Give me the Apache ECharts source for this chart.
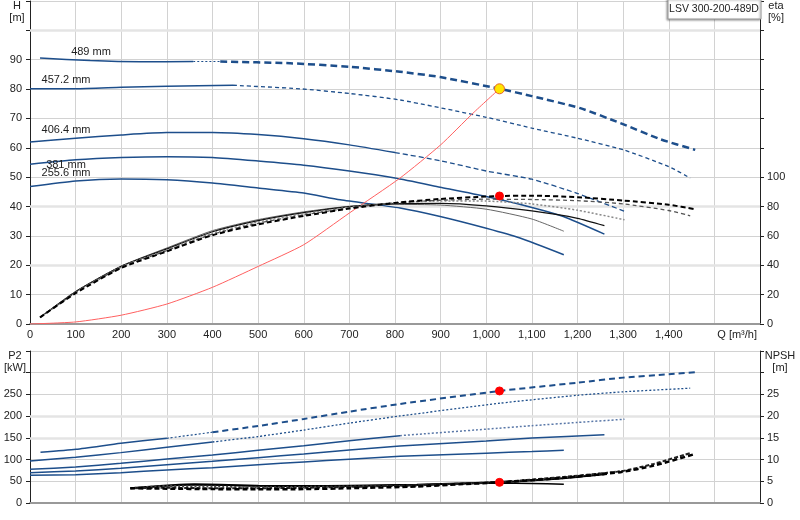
<!DOCTYPE html>
<html><head><meta charset="utf-8">
<script src="https://cdn.jsdelivr.net/npm/echarts@6/dist/echarts.min.js"></script>
<style>html,body{margin:0;padding:0;background:#fff}#c{width:800px;height:520px}</style>
</head><body><div id="c"></div>
<script>
// ---------- data ----------
const pumpName = 'LSV 300-200-489D';
const diamLabels = ['489 mm', '457.2 mm', '406.4 mm', '381 mm', '255.6 mm'];
const qAxisTitle = 'Q [m\u00b3/h]';

// Head curves [Q, H]
const h489 = [[22,90.6],[132,89.7],[241,89.3],[358,89.4],[417,89.4],[570,88.8],[700,87.6],[811,85.9],[899,84.1],[1029,80.1],[1100,77.6],[1206,73.5],[1294,68.4],[1382,62.9],[1458,59.3]];
const h457 = [[0,80.1],[100,80.1],[200,80.6],[300,81.0],[445,81.3],[592,80.1],[700,78.5],[811,76.3],[1000,70.4],[1100,66.7],[1199,63.3],[1301,59.3],[1400,53.6],[1447,49.7]];
const h406 = [[0,62.0],[100,63.3],[200,64.4],[300,65.2],[400,65.2],[500,64.5],[600,63.1],[700,61.0],[800,58.4],[900,55.6],[1000,52.1],[1100,49.3],[1199,44.5],[1303,38.4]];
const h381 = [[0,54.4],[100,55.9],[200,56.7],[300,57.0],[400,56.7],[500,55.5],[600,54.1],[700,52.1],[800,49.7],[899,46.6],[1000,43.4],[1100,39.7],[1169,36.6],[1259,30.6]];
const h255 = [[0,46.8],[100,48.7],[200,49.4],[300,49.1],[400,48.0],[500,46.3],[600,44.6],[680,42.3],[811,39.5],[899,36.6],[1000,32.6],[1074,29.3],[1170,23.6]];
// System curve [Q, H]
const sysCurve = [[0,0],[100,0.7],[200,3.0],[300,6.8],[400,12.5],[500,19.6],[600,27.0],[700,37.8],[811,49.7],[900,61.0],[971,71.8],[1029,80.1]];
// Efficiency curves [Q, eta %]
const e489 = [[22,4.5],[100,21],[200,38.2],[300,49.5],[400,60.5],[500,67.9],[600,73.6],[700,78.6],[800,82.5],[900,85.2],[1000,86.8],[1029,87.2],[1100,87.4],[1200,86.4],[1300,84.1],[1400,81.2],[1458,78.2]];
const e457 = [[22,4.5],[100,21.3],[200,38.6],[300,50],[400,61.2],[500,68.6],[600,74.3],[700,79],[800,82.5],[900,84.3],[1000,85],[1100,84.8],[1200,84],[1300,81.8],[1400,77.3],[1447,73.7]];
const e406 = [[22,4.5],[100,21.6],[200,39],[300,50.5],[400,62],[500,69.5],[600,75],[700,79.5],[800,82.5],[900,83.8],[1000,83.7],[1100,81.8],[1200,77.5],[1303,71]];
const e381 = [[22,4.5],[100,22],[200,39.3],[300,51.2],[400,62.8],[500,70.4],[600,75.8],[700,80],[800,82],[900,82.2],[1000,80.5],[1100,77],[1200,72],[1259,67]];
const e255 = [[22,4.5],[100,22.2],[200,39.5],[300,51.8],[400,63.6],[500,71.1],[600,76.4],[700,80.2],[800,81.5],[900,81],[1000,78.2],[1100,71.5],[1170,63.2]];
// Power P2 [Q, kW]
const p489 = [[23,116.8],[101,123.7],[199,137.5],[300,149],[400,163],[500,177.4],[600,193.5],[700,210.4],[811,228.1],[1029,258],[1200,277],[1300,288.7],[1400,296.5],[1458,301]];
const p457 = [[0,96.8],[100,105.3],[199,116],[300,128.2],[400,140.5],[500,153],[600,168],[700,184],[811,200.4],[1029,229.7],[1200,248],[1300,256],[1447,264.3]];
const p406 = [[0,77.6],[100,83],[199,91.4],[300,101.4],[400,110.6],[500,121.4],[600,132],[700,143.5],[811,155.1],[1000,170],[1100,178],[1200,185.5],[1303,192.8]];
const p381 = [[0,69.8],[100,73.7],[199,79.9],[300,88.2],[400,96],[500,104.4],[600,112.9],[700,122.1],[811,131.3],[1000,143],[1100,149.5],[1259,157.4]];
const p255 = [[0,63.8],[100,65.2],[199,69.8],[300,76],[400,81.3],[500,88.2],[600,94.5],[700,100.7],[811,107.6],[1000,114.8],[1100,118.5],[1170,121.4]];
// NPSH [Q, m]
const n489 = [[220,3.4],[300,3.3],[400,3.2],[500,3.15],[600,3.2],[700,3.4],[848,3.8],[940,4.3],[1029,4.75],[1169,5.8],[1294,7.1],[1367,8.6],[1458,11.3]];
const n457 = [[220,3.4],[300,3.5],[400,3.4],[500,3.4],[600,3.5],[700,3.7],[848,4.1],[1029,4.85],[1169,6.0],[1294,7.3],[1367,9.0],[1447,11.5]];
const n406 = [[220,3.4],[300,3.9],[400,3.8],[500,3.6],[600,3.7],[700,3.8],[848,4.0],[1029,4.8],[1169,5.9],[1303,7.4]];
const n381 = [[220,3.4],[360,4.3],[500,4.0],[600,3.9],[700,4.0],[848,4.2],[1029,4.8],[1169,5.7],[1259,6.6]];
const n255 = [[220,3.4],[360,4.2],[500,4.0],[600,3.9],[700,3.9],[848,4.2],[1029,4.6],[1100,4.5],[1170,4.3]];
// Duty point
const dutyQ = 1029, dutyH = 80.1, dutyEta = 87.2, dutyP2 = 258, dutyNPSH = 4.75;
// Emphasised grid values
const hEmph = [20, 40, 100];
const pEmph = [150, 200];

// ---------- chart ----------
const BLUE = '#1d4e8b';
const FONT = 'Liberation Sans, Arial, sans-serif';
function seg(d, a, b) { return d.filter(p => p[0] >= a && p[0] <= b); }
function ln(data, xi, yi, color, width, type, z) {
  return { type: 'line', xAxisIndex: xi, yAxisIndex: yi, data: data, symbol: 'none', showSymbol: false,
    smooth: 0.2, lineStyle: { color: color, width: width, type: type }, z: z || 5, silent: true, animation: false };
}
function pt(q, v, xi, yi, fill, border, size) {
  return { type: 'scatter', xAxisIndex: xi, yAxisIndex: yi, data: [[q, v]], symbolSize: size,
    itemStyle: { color: fill, borderColor: border, borderWidth: 1, opacity: 1 }, z: 12, silent: true, animation: false };
}
function emph(vals, xi, yi) {
  return { type: 'line', xAxisIndex: xi, yAxisIndex: yi, data: [], z: 0, silent: true, animation: false,
    markLine: { silent: true, symbol: 'none', label: { show: false }, animation: false,
      lineStyle: { color: '#e4e4e4', width: 2.5, type: 'solid' }, data: vals.map(v => ({ yAxis: v })) } };
}
const lbl = { color: '#222', fontSize: 11, fontFamily: FONT };
function xAx(gi, showLabel) {
  return { gridIndex: gi, type: 'value', min: 0, max: 1600, interval: 100,
    axisLine: { show: true, onZero: false, lineStyle: { color: '#999', width: 2 } },
    axisTick: { show: false },
    axisLabel: Object.assign({ show: showLabel, margin: 5,
      formatter: v => (v >= 1500 ? '' : v.toLocaleString('en-US')) }, lbl),
    splitLine: { show: true, lineStyle: { color: '#d2d2d2', width: 1 } } };
}
function yAx(gi, pos, max, interval, labelMax, split) {
  return { gridIndex: gi, type: 'value', position: pos, min: 0, max: max, interval: interval,
    axisLine: { show: true, lineStyle: { color: '#222', width: 1 } },
    axisTick: { show: true, length: 4, inside: false, lineStyle: { color: '#222' } },
    axisLabel: Object.assign({ margin: pos === 'left' ? 8 : 7,
      formatter: v => (v <= labelMax ? String(v) : '') }, lbl),
    splitLine: { show: split, lineStyle: { color: '#d2d2d2', width: 1 } } };
}
function txt(x, y, s, align, size) {
  return { type: 'text', x: x, y: y, z: 50,
    style: { text: s, fill: '#222', font: (size || 11) + 'px ' + FONT, align: align || 'center', verticalAlign: 'middle' } };
}

const series = [
  emph(hEmph, 0, 0), emph(pEmph, 1, 2),
  // head
  ln(seg(h489, 0, 358), 0, 0, BLUE, 1.5, 'solid'),
  ln(seg(h489, 358, 417), 0, 0, BLUE, 1.2, [2, 2]),
  ln(seg(h489, 417, 2000), 0, 0, BLUE, 2.5, [7, 4]),
  ln(seg(h457, 0, 445), 0, 0, BLUE, 1.5, 'solid'),
  ln(seg(h457, 445, 2000), 0, 0, BLUE, 1.3, [4, 3]),
  ln(seg(h406, 0, 800), 0, 0, BLUE, 1.5, 'solid'),
  ln(seg(h406, 800, 2000), 0, 0, BLUE, 1.3, [5, 3]),
  ln(h381, 0, 0, BLUE, 1.5, 'solid'),
  ln(h255, 0, 0, BLUE, 1.5, 'solid'),
  ln(sysCurve, 0, 0, '#ff6060', 1, 'solid'),
  // efficiency
  ln(e255, 0, 1, '#666', 1, 'solid'),
  ln(e381, 0, 1, '#111', 1.2, 'solid'),
  ln(e406, 0, 1, '#888', 1.5, [2, 2]),
  ln(e457, 0, 1, '#555', 1.3, [4, 3]),
  ln(e489, 0, 1, '#000', 2, [5, 3], 6),
  // power
  ln(seg(p489, 0, 300), 1, 2, BLUE, 1.5, 'solid'),
  ln(seg(p489, 300, 400), 1, 2, BLUE, 1.2, [2, 2]),
  ln(seg(p489, 400, 2000), 1, 2, BLUE, 2, [6, 4]),
  ln(seg(p457, 0, 400), 1, 2, BLUE, 1.5, 'solid'),
  ln(seg(p457, 400, 2000), 1, 2, BLUE, 1.3, [2, 2]),
  ln(seg(p406, 0, 811), 1, 2, BLUE, 1.5, 'solid'),
  ln(seg(p406, 811, 2000), 1, 2, '#5a78a8', 1.5, [2, 2]),
  ln(p381, 1, 2, BLUE, 1.5, 'solid'),
  ln(p255, 1, 2, BLUE, 1.5, 'solid'),
  // NPSH
  ln(n255, 1, 3, '#000', 1.5, 'solid'),
  ln(n381, 1, 3, '#000', 2, 'solid'),
  ln(n406, 1, 3, '#444', 2, [2, 2]),
  ln(n457, 1, 3, '#222', 2, [4, 2]),
  ln(n489, 1, 3, '#000', 2.5, [5, 3], 6),
  // duty points
  pt(dutyQ, dutyH, 0, 0, '#ffe600', '#e8642a', 10),
  pt(dutyQ, dutyEta, 0, 1, '#ff0000', '#ff0000', 8),
  pt(dutyQ, dutyP2, 1, 2, '#ff0000', '#ff0000', 8),
  pt(dutyQ, dutyNPSH, 1, 3, '#ff0000', '#ff0000', 8)
];

const chart = echarts.init(document.getElementById('c'));
chart.setOption({
  animation: false,
  backgroundColor: '#fff',
  grid: [
    { left: 30, right: 40, top: 1, height: 323 },
    { left: 30, right: 40, top: 351, height: 152 }
  ],
  xAxis: [xAx(0, true), xAx(1, false)],
  yAxis: [
    yAx(0, 'left', 110, 10, 90, true),
    yAx(0, 'right', 220, 20, 100, false),
    yAx(1, 'left', 350, 50, 250, true),
    yAx(1, 'right', 35, 5, 25, false)
  ],
  series: series,
  graphic: [
    txt(17, 6, 'H'), txt(17, 18, '[m]'),
    txt(776, 6, 'eta'), txt(776, 18, '[%]'),
    txt(15, 356, 'P2'), txt(15, 368, '[kW]'),
    txt(780, 356, 'NPSH'), txt(780, 368, '[m]'),
    txt(757, 335, qAxisTitle, 'right'),
    txt(91, 52, diamLabels[0]),
    txt(66, 80, diamLabels[1]),
    txt(66, 130, diamLabels[2]),
    txt(66, 165, diamLabels[3]),
    txt(66, 173, diamLabels[4]),
    { type: 'rect', z: 60, shape: { x: 668, y: -1, width: 93, height: 20 },
      style: { fill: '#fff', stroke: '#9a9a9a', lineWidth: 1, shadowBlur: 2, shadowColor: 'rgba(0,0,0,0.35)', shadowOffsetX: -1, shadowOffsetY: 1 } },
    Object.assign(txt(714, 9, pumpName, 'center', 10.5), { z: 61 })
  ]
});
</script>
</body></html>
